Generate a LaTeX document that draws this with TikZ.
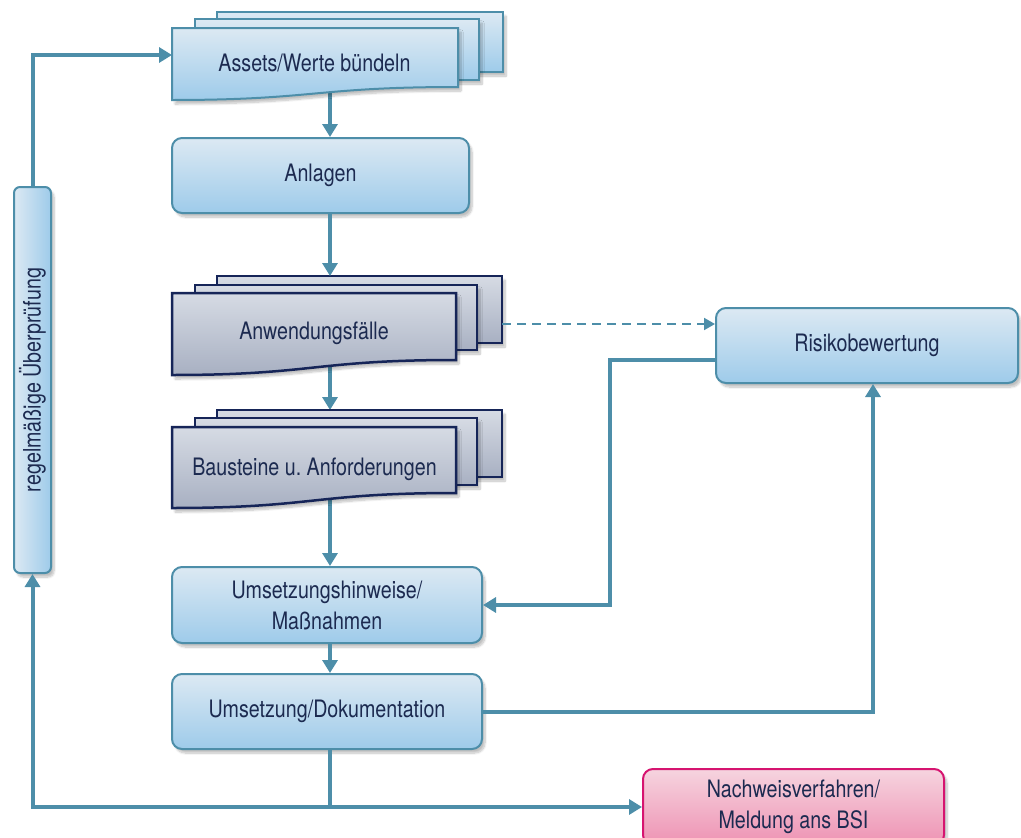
\documentclass[tikz,border=0pt]{standalone}
\usepackage{fontspec}
\setmainfont{TeX Gyre Heros}[FakeStretch=0.82]
\usetikzlibrary{arrows.meta,shadows.blur}
\definecolor{connc}{RGB}{77,142,169}
\definecolor{bluebd}{RGB}{77,142,169}
\definecolor{bluetop}{RGB}{220,233,243}
\definecolor{bluebot}{RGB}{158,203,234}
\definecolor{graytop}{RGB}{214,219,228}
\definecolor{graybot}{RGB}{168,176,194}
\definecolor{navybd}{RGB}{22,37,88}
\definecolor{pinktop}{RGB}{246,212,223}
\definecolor{pinkbot}{RGB}{238,146,179}
\definecolor{pinkbd}{RGB}{214,20,112}
\definecolor{txt}{RGB}{28,42,80}
\newcommand{\frontsheet}[6]{\path[#1] (#2,#3) -- (#4,#3) -- (#4,#5) .. controls ({#4-0.5*(#4-#2)},#5) and ({#2+0.5*(#4-#2)},#6) .. (#2,#6) -- cycle;}
\tikzset{
  shad/.style={blur shadow={shadow blur steps=8,shadow xshift=3pt,shadow yshift=-4pt,shadow opacity=25}},
  txtfont/.style={font=\fontsize{24}{31}\selectfont, text=txt, align=center},
  bluebox/.style={draw=bluebd, line width=2pt, rounded corners=10pt, top color=bluetop, bottom color=bluebot, shad, inner sep=0pt, txtfont},
  pinkbox/.style={draw=pinkbd, line width=2pt, rounded corners=10pt, top color=pinktop, bottom color=pinkbot, shad, inner sep=0pt, txtfont},
  bluesheet/.style={draw=bluebd, line width=2pt, top color=bluetop, bottom color=bluebot, shad},
  graysheet/.style={draw=navybd, line width=2.5pt, top color=graytop, bottom color=graybot, shad},
  doctext/.style={txtfont, inner sep=0pt},
  conn/.style={draw=connc, line width=4pt, -{Triangle[length=13pt,width=15pt]}},
  plainline/.style={draw=connc, line width=4pt},
  dashconn/.style={draw=connc, line width=2pt, dash pattern=on 9pt off 6pt, -{Triangle[length=11pt,width=12pt]}},
}
\begin{document}
\begin{tikzpicture}[x=1pt,y=-1pt]
\useasboundingbox (0,0) rectangle (1021,838);
% coordinates
\coordinate (assetsB) at (330,85);
\coordinate (assetsL) at (172,55);
\coordinate (anwT) at (330,276);
\coordinate (anwB) at (330,360);
\coordinate (anwR) at (502,324);
\coordinate (bauT) at (330,410);
\coordinate (bauB) at (330,490);
\coordinate (rk) at (610,360);
\coordinate (ru) at (873,0);
% rounded boxes
\node[bluebox, minimum width=297pt, minimum height=75pt] (anl) at (320.5,175.5) {Anlagen};
\node[bluebox, minimum width=310pt, minimum height=76pt] (uh) at (327,605) {Umsetzungshinweise/\\Maßnahmen};
\node[bluebox, minimum width=310pt, minimum height=75pt] (ud) at (327,711.5) {Umsetzung/Dokumentation};
\node[bluebox, minimum width=302pt, minimum height=75pt] (risk) at (867,345.5) {Risikobewertung};
\node[pinkbox, minimum width=301pt, minimum height=76pt] (nw) at (793.5,807) {Nachweisverfahren/\\Meldung ans BSI};
\node[draw=bluebd, line width=2pt, rounded corners=6pt, left color=bluetop, right color=bluebot, shad, minimum width=37pt, minimum height=386pt, inner sep=0pt] (vbox) at (32.5,380) {};
\node[doctext, rotate=90] (vlabel) at (vbox.center) {regelmäßige Überprüfung};
% lines leaving wavy bottoms
\draw[conn] (assetsB) -- (assetsB |- anl.north);
\draw[conn] (anwB) -- (bauT);
\draw[conn] (bauB) -- (bauB |- uh.north);
% Assets stack
\path[bluesheet] (217,12) rectangle (503,72);
\path[bluesheet] (195,19) rectangle (479,80);
\frontsheet{bluesheet}{172}{28}{458}{87}{100}
\node[doctext] (assets) at (314.5,63) {Assets/Werte bündeln};
% Anwendungsfaelle stack
\path[graysheet] (217,276) rectangle (502,343);
\path[graysheet] (195,285) rectangle (477,350);
\frontsheet{graysheet}{172}{293}{456}{360}{375}
\node[doctext] (anw) at (314,333) {Anwendungsfälle};
% Bausteine stack
\path[graysheet] (217,410) rectangle (502,477);
\path[graysheet] (195,418) rectangle (477,485);
\frontsheet{graysheet}{172}{427}{456}{493}{508}
\node[doctext] (bau) at (314.5,469) {Bausteine u.\ Anforderungen};
% other connectors
\draw[conn] (anl.south -| anwT) -- (anwT);
\draw[conn] (uh.south -| assetsB) -- (assetsB |- ud.north);
\draw[conn] (vbox.north) |- (assetsL);
\draw[dashconn] (anwR) -- (anwR -| risk.west);
\draw[conn] (rk -| risk.west) -- (rk) |- (uh.east);
\draw[conn] (ud.east) -| (ru |- risk.south);
\draw[plainline] (ud.south -| assetsB) -- (assetsB |- nw.west);
\draw[conn, {Triangle[length=13pt,width=15pt]}-{Triangle[length=13pt,width=15pt]}] (vbox.south) |- (nw.west);
\end{tikzpicture}
\end{document}
